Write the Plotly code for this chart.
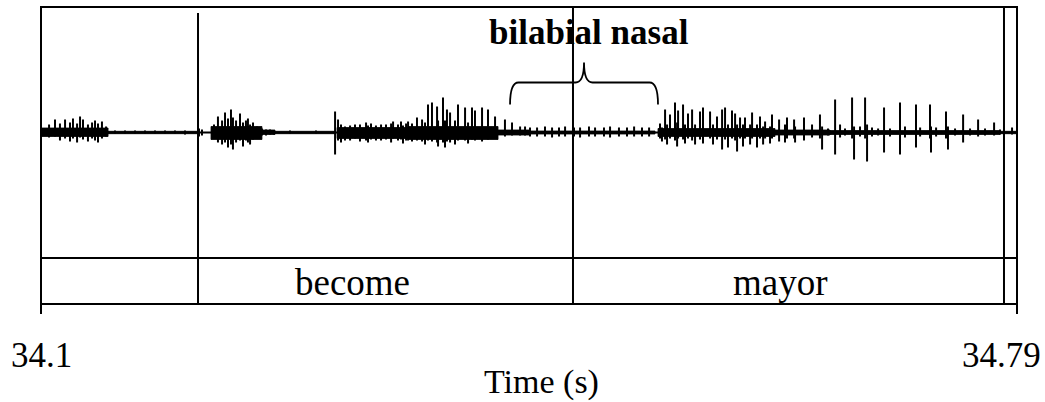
import plotly.graph_objects as go

# ---------------- data ----------------
T0, T1 = 34.1, 34.79                      # time window (s)
tick_values = [34.1, 34.79]
tick_labels = ["34.1", "34.79"]

# word-tier boundaries (s) and labels
boundaries_s = [34.2110, 34.4761, 34.7808]
words = ["become", "mayor"]
word_pos_s = [34.3199, 34.6230]

# waveform: dense-energy bands (ms after 34.1 s) with upper / lower envelope
band_start_ms = [0.7, 47.4, 120.2, 156.2, 165.4, 209.3, 259.5, 323.1, 345.7, 436.2, 518.9, 557.8, 678.0]
band_end_ms   = [47.4, 111.0, 156.2, 165.4, 207.9, 259.5, 323.1, 345.7, 434.1, 518.9, 557.8, 678.0, 689.5]
band_up       = [0.045, 0.012, 0.06, 0.025, 0.012, 0.05, 0.06, 0.025, 0.015, 0.04, 0.025, 0.02, 0.012]
band_dn       = [0.04, 0.012, 0.07, 0.02, 0.012, 0.06, 0.07, 0.025, 0.015, 0.04, 0.025, 0.02, 0.012]

# waveform: individual pulses (ms after 34.1 s), positive and negative peak amplitude
pulse_ms = [
    5.7, 9.9, 13.4, 17.0, 20.5, 22.6, 25.5, 27.6, 29.7, 33.2, 36.1, 38.2, 40.3, 43.1, 46.0,
    52.3, 59.4, 66.5, 73.5, 80.6, 87.7, 94.7, 101.8, 111.7, 113.8,
    122.3, 125.1, 128.0, 130.1, 132.2, 134.3, 135.7, 137.9, 140.7, 142.8, 144.9, 146.3, 147.8,
    149.9, 152.7, 156.2, 159.1, 161.9, 164.7, 176.0, 194.4,
    207.9, 210.0, 212.1, 214.9, 218.5, 222.0, 225.5, 229.8, 231.2, 233.3, 236.8, 240.4, 243.9,
    247.5, 248.9, 252.4, 254.5, 255.9, 258.1,
    259.5, 262.3, 265.8, 269.4, 271.5, 273.6, 276.4, 280.0, 280.7, 284.2, 285.6, 287.0, 289.2,
    292.7, 294.8, 299.8, 301.9, 304.7, 306.8, 311.8, 316.0, 321.0, 328.0, 333.0, 338.7, 342.2,
    345.7, 350.7, 356.3, 361.3, 366.2, 370.5, 376.8, 381.1, 387.4, 391.7, 398.0, 402.3, 408.6,
    414.3, 419.3, 424.9, 429.9,
    437.6, 439.0, 441.2, 442.6, 444.7, 448.2, 449.7, 450.4, 453.9, 455.3, 457.4, 460.3, 462.4,
    465.9, 468.0, 473.0, 475.1, 477.9, 481.5, 483.6, 485.7, 488.5, 490.7, 492.1, 494.2, 496.3,
    497.7, 501.3, 502.7, 506.2, 508.3, 510.5, 511.9, 515.4, 516.8,
    521.8, 526.0, 527.4, 532.4, 533.1, 539.4, 545.1, 550.7, 552.2, 556.4, 561.4, 564.9, 568.4,
    573.4, 574.8, 579.0, 582.6, 584.0, 587.5, 591.8, 596.0, 600.2, 607.3, 610.8, 618.6, 621.5,
    628.5, 629.2, 632.8, 639.8, 641.2, 646.2, 651.9, 656.8, 662.5, 667.4, 673.8, 678.0, 686.5,
]
pulse_up = [
    0.08, 0.13, 0.09, 0.13, 0.10, 0.14, 0.09, 0.16, 0.13, 0.08, 0.10, 0.12, 0.09, 0.11, 0.06,
    0.02, 0.02, 0.02, 0.02, 0.02, 0.02, 0.02, 0.02, 0.04, 0.03,
    0.08, 0.16, 0.12, 0.20, 0.14, 0.23, 0.15, 0.12, 0.19, 0.10, 0.12, 0.14, 0.08,
    0.10, 0.06, 0.04, 0.03, 0.03, 0.02, 0.02, 0.02,
    0.21, 0.13, 0.08, 0.06, 0.07, 0.08, 0.08, 0.10, 0.07, 0.09, 0.07, 0.08, 0.08,
    0.09, 0.11, 0.08, 0.11, 0.07, 0.09,
    0.11, 0.09, 0.15, 0.13, 0.10, 0.28, 0.30, 0.26, 0.12, 0.35, 0.12, 0.23, 0.20,
    0.12, 0.28, 0.25, 0.10, 0.25, 0.22, 0.25, 0.23, 0.16, 0.13, 0.10, 0.06, 0.06,
    0.05, 0.05, 0.06, 0.05, 0.05, 0.06, 0.05, 0.05, 0.06, 0.05, 0.05, 0.06, 0.05,
    0.05, 0.06, 0.05, 0.05,
    0.09, 0.05, 0.23, 0.08, 0.18, 0.30, 0.10, 0.22, 0.28, 0.08, 0.19, 0.23, 0.08,
    0.21, 0.25, 0.21, 0.08, 0.16, 0.23, 0.25, 0.08, 0.22, 0.19, 0.08, 0.15, 0.08,
    0.15, 0.08, 0.20, 0.08, 0.16, 0.06, 0.11, 0.06, 0.18,
    0.13, 0.08, 0.15, 0.13, 0.06, 0.15, 0.08, 0.18, 0.06, 0.04, 0.33, 0.08, 0.04,
    0.35, 0.06, 0.06, 0.35, 0.08, 0.05, 0.04, 0.25, 0.04, 0.30, 0.06, 0.28, 0.05,
    0.28, 0.06, 0.05, 0.21, 0.06, 0.04, 0.18, 0.04, 0.13, 0.04, 0.10, 0.03, 0.05,
]
pulse_dn = [
    0.05, 0.04, 0.08, 0.06, 0.09, 0.06, 0.10, 0.05, 0.07, 0.09, 0.06, 0.08, 0.10, 0.06, 0.04,
    0.01, 0.01, 0.01, 0.01, 0.01, 0.01, 0.01, 0.02, 0.04, 0.03,
    0.06, 0.10, 0.12, 0.10, 0.15, 0.12, 0.17, 0.10, 0.08, 0.14, 0.08, 0.10, 0.12,
    0.07, 0.05, 0.03, 0.03, 0.02, 0.02, 0.01, 0.01,
    0.22, 0.08, 0.10, 0.08, 0.08, 0.06, 0.09, 0.08, 0.10, 0.07, 0.08, 0.08, 0.07,
    0.10, 0.06, 0.08, 0.07, 0.11, 0.08,
    0.08, 0.09, 0.08, 0.09, 0.12, 0.08, 0.09, 0.10, 0.14, 0.10, 0.15, 0.09, 0.10,
    0.12, 0.08, 0.08, 0.11, 0.07, 0.08, 0.09, 0.07, 0.05, 0.04, 0.03, 0.03, 0.03,
    0.04, 0.04, 0.04, 0.05, 0.04, 0.04, 0.04, 0.05, 0.04, 0.04, 0.04, 0.05, 0.04,
    0.04, 0.04, 0.04, 0.04,
    0.06, 0.09, 0.07, 0.12, 0.06, 0.08, 0.14, 0.06, 0.07, 0.11, 0.06, 0.08, 0.12,
    0.07, 0.11, 0.06, 0.12, 0.07, 0.17, 0.07, 0.15, 0.06, 0.08, 0.19, 0.06, 0.14,
    0.06, 0.12, 0.06, 0.15, 0.06, 0.12, 0.06, 0.11, 0.06,
    0.09, 0.10, 0.06, 0.06, 0.10, 0.08, 0.05, 0.06, 0.17, 0.03, 0.22, 0.05, 0.03,
    0.06, 0.27, 0.04, 0.06, 0.29, 0.04, 0.03, 0.20, 0.04, 0.22, 0.05, 0.15, 0.04,
    0.06, 0.20, 0.04, 0.06, 0.17, 0.03, 0.10, 0.03, 0.04, 0.03, 0.03, 0.02, 0.02,
]

# annotation: brace over the bilabial nasal (ms after 34.1 s) and its levels
brace_ms = [331.6, 436.2]
brace_levels = {"foot": 0.28, "bar": 0.50, "tip": 0.70}
brace_label = "bilabial nasal"
brace_label_s = 34.4874
brace_label_amp = 1.00

# ---------------- figure ----------------
BLACK = "#000000"
FONT = "Liberation Serif, Times New Roman, serif"
WAVE_DOMAIN_BOTTOM = 46 / 297
AMP_HALF = 1.255

fig = go.Figure()

# baseline
fig.add_trace(go.Scatter(x=[T0, T1], y=[0, 0], mode="lines",
                         line=dict(color=BLACK, width=2), hoverinfo="skip", showlegend=False))

# dense bands
for s, e, u, d in zip(band_start_ms, band_end_ms, band_up, band_dn):
    ts, te = T0 + s / 1000, T0 + e / 1000
    fig.add_trace(go.Scatter(x=[ts, te, te, ts, ts], y=[u, u, -d, -d, u], mode="lines",
                             fill="toself", fillcolor=BLACK, line=dict(color=BLACK, width=0.8),
                             hoverinfo="skip", showlegend=False))

# pulses
px, py = [], []
for m, u, d in zip(pulse_ms, pulse_up, pulse_dn):
    t = T0 + m / 1000
    px += [t, t, None]
    py += [u, -d, None]
fig.add_trace(go.Scatter(x=px, y=py, mode="lines", line=dict(color=BLACK, width=2),
                         hoverinfo="skip", showlegend=False))

# frame and tier divider
shapes = [
    dict(type="rect", xref="paper", yref="paper", x0=0, x1=1, y0=0, y1=1,
         line=dict(color=BLACK, width=2)),
    dict(type="line", xref="paper", yref="paper", x0=0, x1=1,
         y0=WAVE_DOMAIN_BOTTOM, y1=WAVE_DOMAIN_BOTTOM, line=dict(color=BLACK, width=2)),
]
for i, b in enumerate(boundaries_s):
    shapes.append(dict(type="line", xref="x", yref="paper", x0=b, x1=b, y0=0,
                       y1=0.98 if i == 0 else 1, line=dict(color=BLACK, width=2)))

# brace path
x0 = T0 + brace_ms[0] / 1000
x1 = T0 + brace_ms[1] / 1000
xm = (x0 + x1) / 2
r = 0.006
yf, yb, yt = brace_levels["foot"], brace_levels["bar"], brace_levels["tip"]
path = (f"M {x0},{yf} Q {x0},{yb} {x0 + r},{yb} L {xm - r},{yb} "
        f"Q {xm},{yb} {xm},{yt} Q {xm},{yb} {xm + r},{yb} L {x1 - r},{yb} "
        f"Q {x1},{yb} {x1},{yf}")
shapes.append(dict(type="path", xref="x", yref="y", path=path,
                   line=dict(color=BLACK, width=1.8)))

annotations = [
    dict(x=brace_label_s, y=brace_label_amp, xref="x", yref="y", text=f"<b>{brace_label}</b>",
         showarrow=False, xanchor="center", yanchor="middle",
         font=dict(family=FONT, size=35, color=BLACK)),
    dict(x=tick_values[0], y=-0.172, xref="x", yref="paper", text=tick_labels[0],
         showarrow=False, xanchor="center", yanchor="middle",
         font=dict(family=FONT, size=35, color=BLACK)),
    dict(x=1.0266, y=-0.172, xref="paper", yref="paper", text=tick_labels[1],
         showarrow=False, xanchor="right", yanchor="middle",
         font=dict(family=FONT, size=35, color=BLACK)),
    dict(x=0.513, y=-0.262, xref="paper", yref="paper", text="Time (s)",
         showarrow=False, xanchor="center", yanchor="middle",
         font=dict(family=FONT, size=34, color=BLACK)),
]
for w, p in zip(words, word_pos_s):
    annotations.append(dict(x=p, y=0.072, xref="x", yref="paper", text=w, showarrow=False,
                            xanchor="center", yanchor="middle",
                            font=dict(family=FONT, size=37, color=BLACK)))

fig.update_layout(
    width=1045, height=402,
    margin=dict(l=41, r=28, t=7, b=98),
    paper_bgcolor="white", plot_bgcolor="white",
    shapes=shapes, annotations=annotations,
    xaxis=dict(range=[T0, T1], anchor="free", position=0, showgrid=False, zeroline=False,
               showline=False, ticks="outside", tickvals=tick_values, ticklen=9, tickwidth=2,
               tickcolor=BLACK, showticklabels=False),
    yaxis=dict(domain=[WAVE_DOMAIN_BOTTOM, 1], range=[-AMP_HALF, AMP_HALF], showgrid=False,
               zeroline=False, showline=False, showticklabels=False, ticks=""),
)

fig.write_html("out.html", config={"displayModeBar": False, "staticPlot": True},
               post_script="document.body.style.margin='0px';")
